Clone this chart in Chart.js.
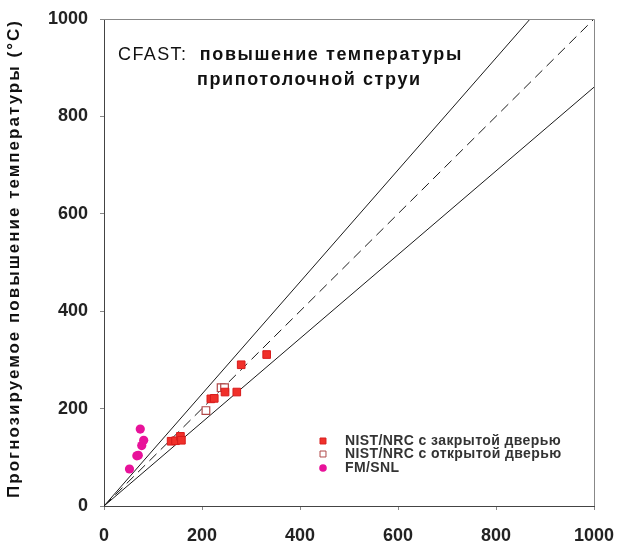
<!DOCTYPE html>
<html lang="ru">
  <head>
    <meta charset="UTF-8" />
    <title>CFAST: повышение температуры припотолочной струи</title>
    <script src="https://cdn.jsdelivr.net/npm/chart.js@4/dist/chart.umd.min.js"></script>
    <style>
      html, body { margin: 0; padding: 0; background: #fff; }
      #wrap { width: 619px; height: 548px; }
    </style>
  </head>

  <body>
    <div id="wrap">
      <canvas id="myChart" width="619" height="548"></canvas>
    </div>
  </body>

  <script>
    // NIST/NRC, закрытая дверь (измерено, прогноз)
    const closedX = [137, 146, 156, 158, 218, 225, 247, 271, 280, 332];
    const closedY = [133, 134, 143, 135, 220, 221, 234, 234, 290, 311];
    // NIST/NRC, открытая дверь
    const openX = [208, 239, 246];
    const openY = [196, 243, 243];
    // FM/SNL
    const fmX = [52, 67, 70, 77, 81, 74];
    const fmY = [76, 103, 104, 124, 135, 158];

    // опорные линии (концы отрезков)
    const refX = [0, 1000];
    const upperY = [0, 1150];
    const diagY = [0, 1000];
    const lowerY = [0, 860];

    const tickValues = [0, 200, 400, 600, 800, 1000];

    const legendLabels = ['NIST/NRC с закрытой дверью', 'NIST/NRC с открытой дверью', 'FM/SNL'];
    const titleLines = ['CFAST:', 'повышение температуры', 'припотолочной струи'];
    const yTitle = 'Прогнозируемое повышение температуры (°C)';

    const FONT = '"Liberation Sans", Arial, sans-serif';

    const pts = (xs, ys) => xs.map((x, i) => ({ x: x, y: ys[i] }));

    const data = {
      datasets: [
        {
          label: legendLabels[0],
          data: pts(closedX, closedY),
          pointStyle: 'rect',
          pointRadius: 5.4,
          backgroundColor: '#f0302a',
          borderColor: '#d81c1c',
          borderWidth: 1
        },
        {
          label: legendLabels[1],
          data: pts(openX, openY),
          pointStyle: 'rect',
          pointRadius: 5.4,
          backgroundColor: '#ffffff',
          borderColor: '#b04848',
          borderWidth: 1.2
        },
        {
          label: legendLabels[2],
          data: pts(fmX, fmY),
          pointStyle: 'circle',
          pointRadius: 4.6,
          backgroundColor: '#e8129a',
          borderColor: '#e8129a',
          borderWidth: 0
        },
        {
          type: 'line',
          data: pts(refX, upperY),
          borderColor: '#1a1a1a',
          borderWidth: 1,
          pointRadius: 0,
          fill: false
        },
        {
          type: 'line',
          data: pts(refX, diagY),
          borderColor: '#1a1a1a',
          borderWidth: 1,
          borderDash: [10, 6],
          pointRadius: 0,
          fill: false
        },
        {
          type: 'line',
          data: pts(refX, lowerY),
          borderColor: '#1a1a1a',
          borderWidth: 1,
          pointRadius: 0,
          fill: false
        }
      ]
    };

    // рамка сверху/справа, подписи и легенда внутри поля графика
    const overlay = {
      id: 'overlay',
      afterDraw(chart) {
        const { ctx, chartArea: a } = chart;
        ctx.save();

        ctx.strokeStyle = '#888';
        ctx.lineWidth = 1;
        ctx.beginPath();
        ctx.moveTo(a.left, a.top + 0.5);
        ctx.lineTo(a.right + 0.5, a.top + 0.5);
        ctx.lineTo(a.right + 0.5, a.bottom);
        ctx.stroke();

        // заголовок
        ctx.fillStyle = '#111';
        ctx.textBaseline = 'middle';
        ctx.textAlign = 'left';
        ctx.letterSpacing = '1.4px';
        let x = a.left + 14;
        ctx.font = '18px ' + FONT;
        ctx.fillText(titleLines[0], x, a.top + 36);
        x += ctx.measureText(titleLines[0] + ' ').width + 6;
        ctx.font = 'bold 18px ' + FONT;
        ctx.letterSpacing = '1.6px';
        ctx.fillText(titleLines[1], x, a.top + 36);
        ctx.fillText(titleLines[2], a.left + 93, a.top + 61);

        // подпись оси Y
        ctx.save();
        ctx.translate(14, (a.top + a.bottom) / 2 - 4);
        ctx.rotate(-Math.PI / 2);
        ctx.textAlign = 'center';
        ctx.letterSpacing = '2px';
        ctx.font = 'bold 17px ' + FONT;
        ctx.fillText(yTitle, 0, 0);
        ctx.restore();

        // легенда
        const rows = [65, 52, 38];
        chart.data.datasets.slice(0, 3).forEach((ds, i) => {
          const y = a.bottom - rows[i];
          ctx.fillStyle = ds.backgroundColor;
          ctx.strokeStyle = ds.borderColor;
          ctx.lineWidth = 1;
          ctx.letterSpacing = '0px';
          Chart.helpers.drawPoint(ctx, {
            pointStyle: ds.pointStyle,
            radius: ds.pointStyle === 'rect' ? 4.2 : 3.8,
            borderWidth: ds.borderWidth
          }, a.left + 219, y);
          ctx.fillStyle = '#333';
          ctx.letterSpacing = '0.4px';
          ctx.font = 'bold 14px ' + FONT;
          ctx.fillText(ds.label, a.left + 241, y);
        });

        ctx.restore();
      }
    };

    const axisCommon = {
      type: 'linear',
      min: 0,
      max: 1000,
      grid: {
        display: true,
        drawOnChartArea: false,
        drawTicks: true,
        tickLength: 4,
        color: '#888'
      },
      border: { display: true, color: '#444', width: 1 },
      ticks: {
        stepSize: 200,
        autoSkip: false,
        maxRotation: 0,
        color: '#222',
        font: { family: FONT, size: 18, weight: 'bold' },
        callback: (v) => String(v)
      },
      afterBuildTicks: (scale) => {
        scale.ticks = tickValues.map(v => ({ value: v }));
      }
    };

    const config = {
      type: 'scatter',
      data: data,
      options: {
        responsive: false,
        animation: false,
        layout: { padding: { top: 19, right: 25, left: 0, bottom: 0 } },
        scales: {
          x: Object.assign({}, axisCommon, {
            position: 'bottom',
            ticks: Object.assign({}, axisCommon.ticks, { padding: 15 }),
            afterFit: (s) => {
              s.height = 42;
              s.paddingLeft = 0;
              s.paddingRight = 0;
            }
          }),
          y: Object.assign({}, axisCommon, {
            position: 'left',
            ticks: Object.assign({}, axisCommon.ticks, { padding: 12 }),
            afterFit: (s) => {
              s.width = 104;
              s.paddingTop = 0;
              s.paddingBottom = 0;
            }
          })
        },
        plugins: {
          legend: { display: false },
          tooltip: { enabled: false },
          title: { display: false }
        }
      },
      plugins: [overlay]
    };

    const myChart = new Chart(document.getElementById('myChart'), config);
  </script>
</html>
